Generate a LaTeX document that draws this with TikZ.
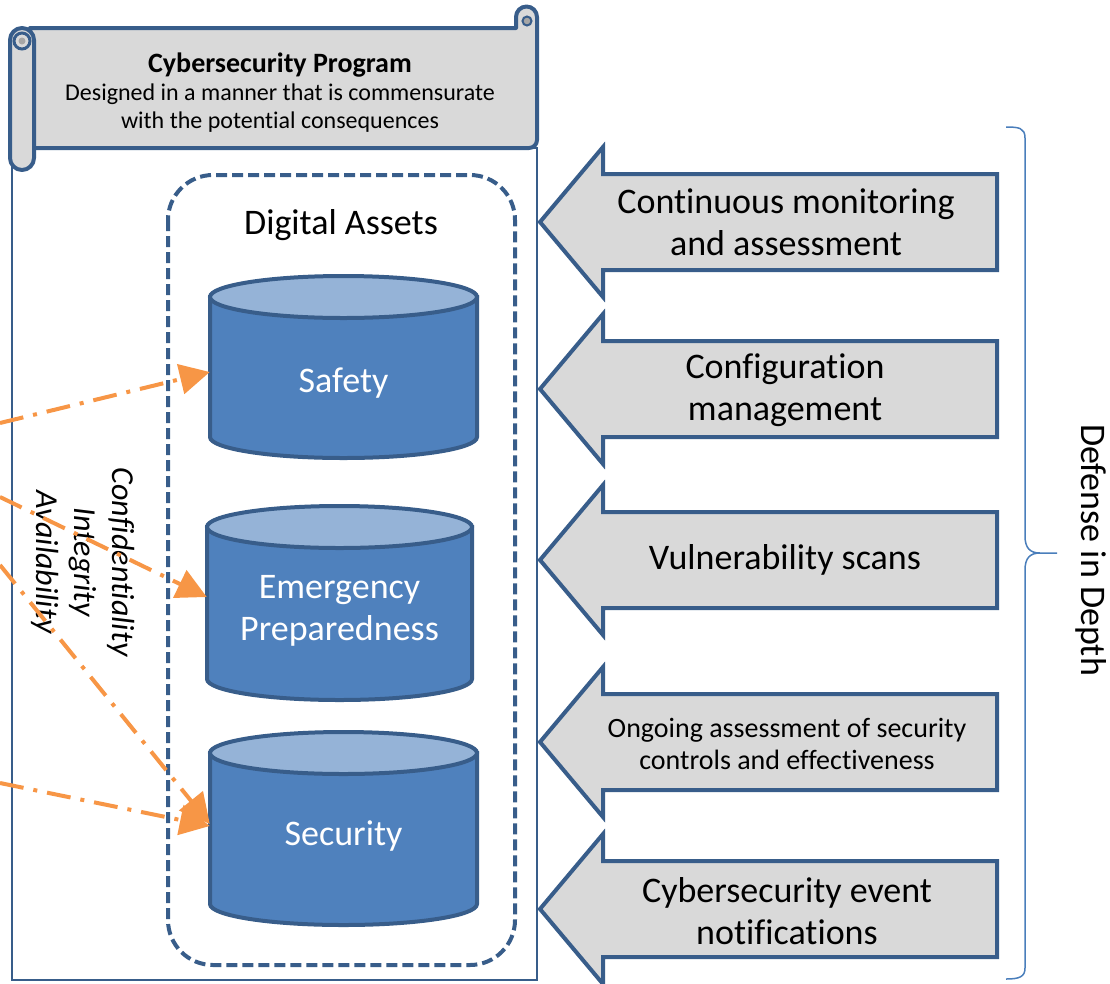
\documentclass[tikz,border=0pt]{standalone}
\usepackage{fontspec}
\setmainfont{Carlito}[Ligatures=NoCommon]
\usetikzlibrary{arrows.meta}
\definecolor{frameblue}{RGB}{56,93,138}
\definecolor{panelgray}{RGB}{217,217,217}
\definecolor{curlgray}{RGB}{166,166,166}
\definecolor{assetblue}{RGB}{79,129,189}
\definecolor{assettop}{RGB}{149,179,215}
\definecolor{flowamber}{RGB}{247,150,70}
\definecolor{braceblue}{RGB}{74,126,187}

\begin{document}
\begin{tikzpicture}[x=1pt, y=-1pt,
    bigtext/.style={font=\fontsize{36}{42}\selectfont, align=center, inner sep=0pt},
    scroll/.style={draw=frameblue, fill=panelgray, line width=4pt, line join=round},
    blockarrow/.style={draw=frameblue, fill=panelgray, line width=4pt},
    assetbox/.style={draw=frameblue, line width=4pt, rounded corners=45pt, dash pattern=on 11pt off 5pt},
    cylbody/.style={draw=frameblue, fill=assetblue, line width=4pt},
    cyltop/.style={draw=frameblue, fill=assettop, line width=4pt},
    cyltext/.style={bigtext, text=white, minimum height=40pt},
    ciaflow/.style={draw=flowamber, line width=4pt, dash pattern=on 24pt off 10pt on 4pt off 10pt,
        -{Triangle[length=30pt, width=30pt]}},
]
    \useasboundingbox (0,0) rectangle (1110,983);

    % program frame
    \draw[frameblue, line width=1.5pt] (12,148) rectangle (537,980);

    % scroll on top
    \draw[scroll] (30,28) -- (516,28) -- (516,17) arc[start angle=180, end angle=360, radius=10.5]
        -- (537,140) arc[start angle=0, end angle=90, radius=8] -- (30,148) -- cycle;
    \draw[frameblue, line width=2pt, fill=curlgray] (527,21) circle[radius=4.5];
    \draw[scroll, rounded corners=12pt] (10,28) rectangle (34,170);
    \draw[frameblue, line width=3pt, fill=panelgray] (22,41) circle[radius=8];
    \fill[curlgray] (22,41) circle[radius=3.5];
    \node[font=\fontsize{24}{28}\selectfont, align=center] (program) at (280,93)
        {{\fontsize{28}{32}\selectfont\bfseries Cybersecurity Program}\\[0pt]
         Designed in a manner that is commensurate\\with the potential consequences};

    % digital assets
    \draw[assetbox] (168,175) rectangle (515,965);
    \node[bigtext] (assets) at (341,225) {Digital Assets};
    \foreach \cx/\rx/\yt/\yb in {343.5/133.5/297/437, 339.5/132.5/527/679, 343.5/133.5/753/904} {
        \draw[cylbody] (\cx-\rx,\yt) -- (\cx-\rx,\yb)
            arc[start angle=180, end angle=0, x radius=\rx, y radius=21] -- (\cx+\rx,\yt) -- cycle;
        \draw[cyltop] (\cx,\yt) ellipse[x radius=\rx, y radius=21];
    }
    \node[cyltext, minimum width=267pt] (safety) at (343.5,383) {Safety};
    \node[cyltext, minimum width=265pt] (emergency) at (339.5,611) {Emergency\\Preparedness};
    \node[cyltext, minimum width=267pt] (security) at (343.5,836) {Security};

    % CIA
    \node[font=\fontsize{32}{38}\selectfont\itshape, align=center, rotate=-90] (cia) at (83,562)
        {Confidentiality\\Integrity\\Availability};
    \coordinate (in1) at (0,423);
    \coordinate (in2) at (0,497);
    \coordinate (in3) at (0,565);
    \coordinate (in4) at (0,783);
    \draw[ciaflow] (in1) -- ([yshift=11pt]safety.west);
    \draw[ciaflow] (in2) -- ([yshift=14pt]emergency.west);
    \draw[ciaflow] (in3) -- ([yshift=12pt]security.west);
    \draw[ciaflow] (in4) -- ([yshift=10pt]security.west);

    % defense layers
    \foreach \y in {222,389,560,742,909}
        \draw[blockarrow] (540,\y) -- (603,\y-75) -- (603,\y-48) -- (997,\y-48)
            -- (997,\y+48) -- (603,\y+48) -- (603,\y+75) -- cycle;
    \node[bigtext] (monitor) at (786,222) {Continuous monitoring\\and assessment};
    \node[bigtext] (config) at (785,390) {Configuration\\management};
    \node[bigtext] (vuln) at (785,560) {Vulnerability scans};
    \node[bigtext, font=\fontsize{28}{32}\selectfont] (ongoing) at (787,744)
        {Ongoing assessment of security\\controls and effectiveness};
    \node[bigtext] (events) at (787,911) {Cybersecurity event\\notifications};

    % brace
    \draw[braceblue, line width=1.5pt] (1006,127) .. controls (1019,127) and (1025,128) .. (1025,138)
        -- (1025,536) .. controls (1025,548) and (1030,553) .. (1040,553) -- (1057,553)
        -- (1040,553) .. controls (1030,553) and (1025,558) .. (1025,570)
        -- (1025,968) .. controls (1025,977) and (1019,979) .. (1006,979);
    \node[bigtext, rotate=-90] (depth) at (1091,550) {Defense in Depth};
\end{tikzpicture}
\end{document}
